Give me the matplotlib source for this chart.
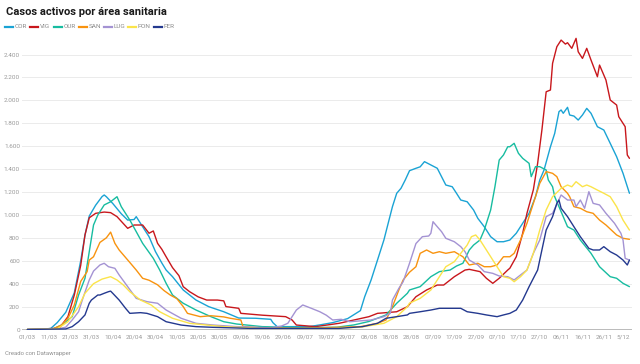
import matplotlib
matplotlib.use('Agg')
import matplotlib.pyplot as plt
from matplotlib.lines import Line2D
from matplotlib.ticker import FuncFormatter

plt.rcParams['font.family'] = ['Roboto', 'DejaVu Sans']

# x axis: days since 01/03
tick_days = [0, 10, 20, 30, 40, 50, 60, 70, 80, 90, 100, 110, 120, 130, 140, 150,
             160, 170, 180, 190, 200, 210, 220, 230, 240, 250, 260, 270, 279]
tick_labels = ["01/03", "11/03", "21/03", "31/03", "10/04", "20/04", "30/04", "10/05",
               "20/05", "30/05", "09/06", "19/06", "29/06", "09/07", "19/07", "29/07",
               "08/08", "18/08", "28/08", "07/09", "17/09", "27/09", "07/10", "17/10",
               "27/10", "06/11", "16/11", "26/11", "5/12"]

cor_days = [0, 8, 11, 14, 18, 22, 25, 27, 29, 32, 35, 36, 37, 40, 44, 47, 50, 51, 54, 57, 60, 63, 65, 68,
            73, 79, 85, 92, 99, 107, 114, 115, 117, 123, 132, 137, 143, 150, 153, 156, 158, 161, 164,
            167, 169, 171, 173, 175, 177, 179, 182, 184, 186, 189, 192, 194, 196, 199, 201, 203, 206,
            209, 211, 214, 217, 220, 223, 226, 229, 232, 235, 238, 240, 242, 245, 247, 249, 250, 251,
            253, 254, 256, 258, 260, 262, 264, 267, 270, 273, 276, 279, 282]
cor_vals = [0, 3, 10, 60, 150, 320, 600, 825, 990, 1085, 1160, 1174, 1159, 1100, 1010, 955, 960, 985, 897,
            810, 680, 580, 519, 461, 345, 257, 199, 155, 100, 98, 89, 60, 25, 25, 25, 40, 60, 95, 130,
            165, 286, 432, 606, 781, 927, 1072, 1189, 1232, 1305, 1386, 1407, 1420, 1465, 1436, 1407,
            1334, 1261, 1246, 1189, 1130, 1115, 1043, 970, 897, 810, 766, 766, 781, 840, 927, 1014,
            1159, 1305, 1392, 1595, 1712, 1901, 1916, 1887, 1939, 1872, 1863, 1828, 1872, 1930, 1887,
            1770, 1741, 1625, 1508, 1363, 1189]

vig_days = [0, 8, 15, 19, 22, 25, 27, 29, 32, 36, 39, 42, 47, 50, 54, 57, 59, 61, 63, 65, 68, 71, 73, 76,
            80, 84, 89, 92, 93, 99, 100, 110, 121, 124, 126, 135, 146, 153, 160, 164, 168, 173, 178,
            182, 187, 192, 195, 200, 205, 207, 212, 215, 218, 221, 225, 226, 229, 232, 234, 237, 239,
            241, 243, 245, 246, 248, 250, 252, 253, 255, 257, 258, 260, 262, 264, 267, 268, 271, 273,
            276, 277, 280, 281, 282]
vig_vals = [0, 5, 12, 112, 301, 560, 825, 975, 1014, 1025, 1020, 985, 883, 912, 912, 840, 860, 752, 700,
            635, 540, 470, 374, 330, 285, 257, 257, 250, 200, 185, 141, 125, 112, 83, 39, 25, 54, 83,
            112, 141, 147, 155, 199, 286, 345, 388, 388, 461, 519, 525, 505, 447, 403, 447, 519, 535,
            635, 840, 1014, 1220, 1450, 1741, 2075, 2090, 2323, 2468, 2526, 2491, 2503, 2454, 2541,
            2424, 2366, 2454, 2352, 2206, 2308, 2177, 2003, 1959, 1857, 1770, 1523, 1494]

our_days = [0, 12, 16, 21, 24, 27, 29, 31, 33, 36, 39, 42, 44, 48, 51, 54, 59, 62, 65, 68, 73, 79, 86, 92,
            98, 110, 130, 145, 153, 160, 168, 173, 178, 179, 184, 189, 193, 198, 201, 204, 207, 209,
            212, 214, 217, 219, 221, 223, 225, 226, 228, 230, 232, 235, 236, 238, 240, 243, 244, 246,
            247, 249, 253, 256, 259, 264, 268, 273, 276, 279, 282]
our_vals = [0, 5, 39, 112, 301, 447, 679, 912, 999, 1087, 1115, 1159, 1072, 955, 854, 752, 621, 519, 403,
            301, 229, 170, 112, 68, 48, 25, 15, 20, 40, 70, 127, 229, 316, 345, 374, 461, 505, 519, 554,
            578, 694, 737, 781, 868, 1043, 1246, 1479, 1523, 1595, 1595, 1625, 1538, 1494, 1450, 1334,
            1421, 1421, 1392, 1305, 1246, 1159, 1072, 897, 868, 781, 665, 548, 461, 447, 403, 374]

san_days = [0, 12, 16, 19, 22, 25, 28, 29, 31, 34, 37, 39, 41, 43, 48, 51, 54, 57, 61, 64, 67, 70, 73, 75,
            81, 86, 92, 95, 100, 101, 109, 128, 156, 164, 168, 171, 174, 176, 179, 182, 184, 187, 190,
            193, 196, 200, 204, 207, 211, 214, 217, 220, 223, 226, 228, 231, 234, 237, 239, 240, 243,
            246, 248, 250, 253, 254, 256, 259, 262, 265, 268, 271, 276, 279, 282]
san_vals = [0, 5, 39, 98, 214, 420, 505, 606, 635, 760, 800, 850, 752, 694, 585, 519, 447, 430, 390, 340,
            300, 270, 200, 141, 112, 120, 110, 98, 83, 25, 15, 10, 25, 54, 83, 199, 345, 432, 500, 548,
            665, 694, 665, 679, 665, 679, 635, 563, 578, 548, 548, 563, 635, 635, 665, 781, 927, 1101,
            1217, 1276, 1378, 1363, 1334, 1246, 1189, 1159, 1072, 1058, 1028, 1014, 955, 912, 825, 796,
            787]

lug_days = [0, 14, 18, 21, 24, 26, 29, 31, 34, 36, 38, 41, 43, 47, 51, 56, 61, 65, 72, 79, 87, 98, 114,
            119, 122, 124, 126, 129, 133, 137, 140, 143, 147, 151, 161, 167, 170, 171, 174, 176, 179,
            182, 185, 188, 189, 190, 192, 194, 196, 200, 203, 205, 207, 211, 214, 218, 221, 225, 228,
            231, 234, 237, 240, 243, 246, 250, 253, 256, 257, 259, 261, 263, 265, 268, 271, 275, 278,
            279, 280, 282]
lug_vals = [0, 5, 20, 83, 155, 272, 432, 510, 563, 578, 548, 534, 476, 374, 272, 243, 229, 170, 98, 54,
            39, 25, 15, 30, 54, 112, 170, 214, 185, 155, 125, 83, 89, 68, 83, 112, 141, 257, 359, 417,
            578, 750, 810, 816, 840, 941, 897, 854, 796, 766, 723, 679, 606, 563, 505, 490, 467, 461,
            432, 476, 519, 665, 781, 985, 1014, 1174, 1130, 1130, 1072, 1130, 1058, 1203, 1101, 1087,
            1014, 927, 840, 781, 621, 606]

pon_days = [0, 14, 19, 21, 24, 27, 31, 35, 39, 42, 45, 48, 53, 58, 62, 68, 76, 84, 92, 109, 142, 156,
            167, 173, 178, 179, 184, 189, 193, 196, 200, 203, 206, 208, 210, 212, 215, 218, 221, 223,
            226, 228, 231, 234, 237, 240, 243, 246, 250, 253, 255, 257, 260, 262, 264, 267, 270, 273,
            276, 279, 282]
pon_vals = [0, 5, 68, 120, 199, 316, 400, 440, 461, 432, 388, 330, 257, 214, 155, 98, 54, 39, 25, 10, 10,
            20, 54, 112, 199, 230, 272, 345, 461, 548, 592, 665, 737, 810, 825, 781, 694, 606, 519, 461,
            447, 417, 461, 519, 665, 868, 1043, 1159, 1232, 1261, 1246, 1290, 1246, 1261, 1246, 1217,
            1189, 1159, 1072, 955, 868]

fer_days = [0, 18, 21, 24, 27, 29, 30, 33, 34, 36, 38, 39, 40, 43, 46, 48, 53, 56, 61, 65, 72, 79, 87,
            104, 146, 157, 164, 168, 173, 178, 179, 184, 189, 193, 198, 203, 206, 211, 215, 220, 223,
            226, 229, 232, 235, 239, 241, 243, 246, 248, 249, 250, 253, 256, 259, 263, 265, 268, 270,
            273, 276, 279, 281, 282]
fer_vals = [0, 5, 25, 68, 127, 229, 257, 301, 301, 316, 330, 335, 316, 257, 185, 141, 147, 141, 112, 68,
            39, 25, 19, 10, 10, 25, 54, 98, 112, 127, 141, 155, 170, 185, 185, 185, 155, 141, 127, 112,
            127, 141, 170, 257, 374, 519, 694, 868, 985, 1101, 1130, 1058, 985, 897, 810, 708, 694, 694,
            723, 679, 650, 606, 563, 606]

names = ["COR", "VIG", "OUR", "SAN", "LUG", "PON", "FER"]
colors = ["#1aa3d4", "#c8171c", "#17bca0", "#f8930f", "#a493d3", "#fbe44a", "#24398f"]
data = [(cor_days, cor_vals), (vig_days, vig_vals), (our_days, our_vals), (san_days, san_vals),
        (lug_days, lug_vals), (pon_days, pon_vals), (fer_days, fer_vals)]

W, H = 640, 364
fig = plt.figure(figsize=(W / 100, H / 100), dpi=100)
ax = fig.add_axes([22 / W, 1 - 329.5 / H, 610 / W, (329.5 - 31.6) / H])

ax.set_xlim(-2.5, 283.2)
ax.set_ylim(0, 2600)
ax.set_yticks(range(0, 2401, 200))
ax.yaxis.set_major_formatter(FuncFormatter(lambda v, p: f"{int(v):,}".replace(",", ".")))
ax.grid(axis='y', color='#ebebeb', lw=0.7, zorder=0)
ax.axhline(0, color='#b5b5b5', lw=1.3, zorder=1)
for s in ax.spines.values():
    s.set_visible(False)
ax.set_xticks(tick_days)
ax.set_xticklabels(tick_labels)
ax.tick_params(axis='both', length=0, labelsize=4.6, labelcolor='#9a9a9a')
ax.tick_params(axis='y', pad=1.5)
ax.tick_params(axis='x', pad=3.5)

for (d, v), c in zip(data, colors):
    ax.plot(d, v, color=c, lw=1.0, solid_joinstyle='round', solid_capstyle='round', zorder=3)

fig.text(6 / W, 1 - 12 / H, "Casos activos por área sanitaria", fontsize=8, fontweight='bold',
         color='#1a1a1a', va='center', ha='left')

leg_x = [5, 30, 54, 79, 104, 128, 154]
ly = 1 - 26.7 / H
for x0, name, c in zip(leg_x, names, colors):
    fig.add_artist(Line2D([x0 / W, (x0 + 7.5) / W], [ly, ly], color=c, lw=1.6,
                          transform=fig.transFigure))
    fig.text((x0 + 10) / W, ly, name, fontsize=4.6, color='#8a8a8a', va='center', ha='left')

fig.text(5 / W, 1 - 353 / H, "Creado con Datawrapper", fontsize=4.3, color='#8f8f8f',
         va='center', ha='left')

fig.savefig("out.png", dpi=100)
